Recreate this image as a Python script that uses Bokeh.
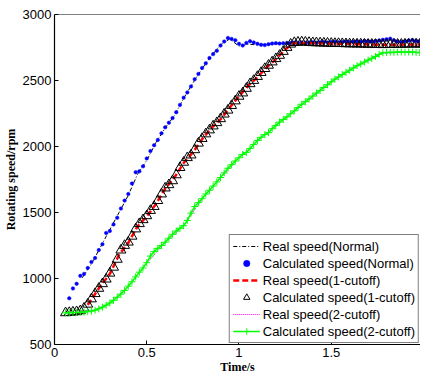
import numpy as np
from bokeh.plotting import figure
from bokeh.models import Range1d, FixedTicker, Legend, LegendItem, Span
from bokeh.embed import file_html
from bokeh.resources import INLINE

# ---------------- data ----------------
# Calculated speed (Normal), sampled every 0.02 s starting at 0.08 s
t_calc_normal_start = 0.08
calc_normal = [
    850, 925, 960, 1020, 1035, 1080, 1125, 1155, 1215, 1260,       # 0.08-0.26
    1345, 1360, 1410, 1460, 1530, 1590, 1640, 1720, 1805, 1812,    # 0.28-0.46
    1850, 1910, 1965, 2010, 2050, 2100, 2145, 2180, 2215, 2260,    # 0.48-0.66
    2315, 2370, 2410, 2455, 2510, 2550, 2595, 2630, 2670, 2700,    # 0.68-0.86
    2725, 2765, 2795, 2822, 2815, 2805, 2778, 2765, 2785, 2798,    # 0.88-1.06
    2788, 2778, 2770, 2768, 2775, 2780, 2783, 2780, 2782, 2785,    # 1.08-1.26
    2784, 2787, 2786, 2788, 2785, 2788, 2790, 2786, 2789, 2792,    # 1.28-1.46
    2788, 2791, 2793, 2789, 2792, 2795, 2791, 2794, 2797, 2793,    # 1.48-1.66
    2800, 2798, 2795, 2799, 2803, 2808, 2812, 2817, 2805, 2795,    # 1.68-1.86
    2792, 2798, 2803, 2806, 2800, 2797, 2800,                      # 1.88-2.00
]

# Calculated speed (1-cutoff), every 0.02 s starting at 0.06 s
t_calc_cut_start = 0.06
calc_cut1 = [
    740, 742, 745, 748, 755, 775, 805, 845, 885, 925,              # 0.06-0.24
    960, 995, 1040, 1085, 1145, 1215, 1250, 1275, 1320, 1375,      # 0.26-0.44
    1415, 1445, 1475, 1515, 1545, 1590, 1640, 1685, 1710, 1740,    # 0.46-0.64
    1785, 1840, 1880, 1915, 1935, 1975, 2025, 2060, 2095, 2125,    # 0.66-0.84
    2155, 2180, 2210, 2245, 2275, 2310, 2345, 2380, 2405, 2440,    # 0.86-1.04
    2475, 2500, 2530, 2560, 2590, 2615, 2640, 2665, 2690, 2720,    # 1.06-1.24
    2750, 2775, 2787, 2790, 2792, 2790, 2788, 2786, 2785, 2784,    # 1.26-1.44
    2783, 2782, 2781, 2780, 2780, 2779, 2778, 2777, 2777, 2776,    # 1.46-1.64
    2776, 2775, 2774, 2774, 2773, 2772, 2771, 2772, 2773, 2773,    # 1.66-1.84
    2774, 2774, 2775, 2775, 2776, 2776, 2775, 2776,                # 1.86-2.00
]

# Calculated speed (2-cutoff), every 0.02 s starting at 0.06 s
calc_cut2 = [
    740, 741, 742, 743, 744, 746, 749, 753, 760, 770,              # 0.06-0.24
    783, 798, 815, 835, 858, 882, 910, 942, 975, 1012,             # 0.26-0.44
    1048, 1080, 1120, 1170, 1205, 1228, 1250, 1275, 1305, 1335,    # 0.46-0.64
    1360, 1380, 1400, 1440, 1495, 1545, 1575, 1605, 1640, 1668,    # 0.66-0.84
    1700, 1732, 1765, 1800, 1835, 1862, 1890, 1915, 1940, 1955,    # 0.86-1.04
    1985, 2015, 2045, 2070, 2090, 2105, 2135, 2160, 2185, 2205,    # 1.06-1.24
    2225, 2248, 2270, 2295, 2320, 2340, 2360, 2382, 2405, 2425,    # 1.26-1.44
    2447, 2468, 2490, 2510, 2527, 2545, 2562, 2578, 2595, 2612,    # 1.46-1.64
    2625, 2640, 2655, 2668, 2682, 2698, 2710, 2712, 2714, 2713,    # 1.66-1.84
    2715, 2716, 2714, 2716, 2715, 2713, 2712, 2711,                # 1.86-2.00
]

# Real speeds (measured lines)
t_real_normal = [0.15, 0.2, 0.25, 0.3, 0.35, 0.4, 0.45, 0.5, 0.55, 0.6, 0.65, 0.7,
                 0.75, 0.8, 0.85, 0.9, 0.95, 1.0, 1.05, 1.1, 1.2, 1.3, 1.4, 1.5,
                 1.6, 1.7, 1.8, 1.9, 2.0]
real_normal = [1005, 1110, 1240, 1370, 1500, 1630, 1790, 1895, 2030, 2140, 2235, 2365,
               2480, 2590, 2685, 2770, 2815, 2760, 2775, 2770, 2778, 2785, 2788, 2790,
               2792, 2796, 2800, 2798, 2800]

t_real_cut1 = [0.18, 0.25, 0.3, 0.35, 0.4, 0.45, 0.5, 0.55, 0.6, 0.65, 0.7, 0.75, 0.8,
               0.85, 0.9, 0.95, 1.0, 1.05, 1.1, 1.15, 1.2, 1.25, 1.3, 1.4, 1.5, 1.6,
               1.7, 1.8, 1.9, 2.0]
real_cut1 = [800, 945, 1035, 1180, 1270, 1395, 1470, 1565, 1680, 1765, 1875, 1955, 2055,
             2140, 2205, 2295, 2380, 2460, 2525, 2600, 2660, 2735, 2785, 2783, 2779, 2776,
             2773, 2770, 2772, 2774]

t_real_cut2 = [0.06, 0.2, 0.3, 0.4, 0.5, 0.6, 0.7, 0.8, 0.9, 1.0, 1.1, 1.2, 1.3, 1.4,
               1.5, 1.6, 1.7, 1.78, 1.9, 2.0]
real_cut2 = [740, 752, 812, 940, 1115, 1272, 1398, 1602, 1762, 1912, 2042, 2158, 2268,
             2380, 2488, 2576, 2652, 2708, 2713, 2710]

x_ticks = [0, 0.5, 1, 1.5, 2]
x_tick_labels = ["0", "0.5", "1", "1.5", "2"]
y_ticks = [500, 1000, 1500, 2000, 2500, 3000]

dt = 0.02
t_calc_normal = [round(t_calc_normal_start + dt * i, 2) for i in range(len(calc_normal))]
t_calc_cut1 = [round(t_calc_cut_start + dt * i, 2) for i in range(len(calc_cut1))]
t_calc_cut2 = [round(t_calc_cut_start + dt * i, 2) for i in range(len(calc_cut2))]

# ---------------- figure ----------------
FONT = "Liberation Sans"
SERIF = "Liberation Serif"

p = figure(width=420, height=376, output_backend="svg", toolbar_location=None,
           x_range=Range1d(0, 1.984), y_range=Range1d(500, 3000),
           min_border_left=47, min_border_right=0, min_border_top=14,
           min_border_bottom=30)
p.background_fill_color = "white"
p.border_fill_color = "white"
p.outline_line_color = None
p.grid.visible = False

for ax in (p.xaxis[0], p.yaxis[0]):
    ax.axis_line_color = "black"
    ax.axis_line_width = 1.2
    ax.major_tick_line_color = "black"
    ax.major_tick_in = 4
    ax.major_tick_out = 0
    ax.minor_tick_line_color = None
    ax.major_label_text_font = FONT
    ax.major_label_text_font_size = "13px"
    ax.major_label_text_color = "black"
    ax.axis_label_text_font = SERIF
    ax.axis_label_text_font_style = "bold"
    ax.axis_label_text_color = "black"

p.xaxis[0].ticker = FixedTicker(ticks=x_ticks)
p.xaxis[0].major_label_overrides = {v: s for v, s in zip(x_ticks, x_tick_labels)}
p.xaxis[0].axis_label = "Time/s"
p.xaxis[0].axis_label_text_font_size = "12px"
p.xaxis[0].major_label_standoff = 3
p.xaxis[0].axis_label_standoff = 0

p.yaxis[0].ticker = FixedTicker(ticks=y_ticks)
p.yaxis[0].axis_label = "Rotating speed/rpm"
p.yaxis[0].axis_label_text_font_size = "12px"
p.yaxis[0].major_label_standoff = 3
p.yaxis[0].axis_label_standoff = 2

# top frame line (box)
p.add_layout(Span(location=p.y_range.end, dimension="width",
                  line_color="black", line_width=1.2))

# ---------------- glyphs ----------------
r1 = p.line(t_real_normal, real_normal, line_color="black", line_width=1,
            line_dash="4 2 1 2")
r2 = p.scatter(t_calc_normal, calc_normal, marker="circle", size=3.5,
               fill_color="blue", line_color="blue", line_width=0.5)
r3 = p.line(t_real_cut1, real_cut1, line_color="red", line_width=2.5,
            line_dash="6 3")
r4 = p.scatter(t_calc_cut1, calc_cut1, marker="triangle", size=10,
               fill_color=None, line_color="black", line_width=1)
r5 = p.line(t_real_cut2, real_cut2, line_color="magenta", line_width=1,
            line_dash="1 1")
r6a = p.line(t_calc_cut2, calc_cut2, line_color="#00ff00", line_width=1.5)
r6b = p.scatter(t_calc_cut2, calc_cut2, marker="cross", size=7,
                line_color="#00ff00", line_width=1)

legend = Legend(items=[
    LegendItem(label="Real speed(Normal)", renderers=[r1]),
    LegendItem(label="Calculated speed(Normal)", renderers=[r2]),
    LegendItem(label="Real speed(1-cutoff)", renderers=[r3]),
    LegendItem(label="Calculated speed(1-cutoff)", renderers=[r4]),
    LegendItem(label="Real speed(2-cutoff)", renderers=[r5]),
    LegendItem(label="Calculated speed(2-cutoff)", renderers=[r6a, r6b]),
], location="bottom_right")
legend.label_text_font = FONT
legend.label_text_font_size = "13px"
legend.label_text_color = "black"
legend.label_height = 16
legend.glyph_height = 16
legend.glyph_width = 27
legend.spacing = 1
legend.padding = 3
legend.margin = 1
legend.label_standoff = 3
legend.border_line_color = "black"
legend.border_line_width = 1
legend.background_fill_color = "white"
legend.background_fill_alpha = 1
p.add_layout(legend, "center")

open("out.html", "w").write(file_html(p, INLINE))
